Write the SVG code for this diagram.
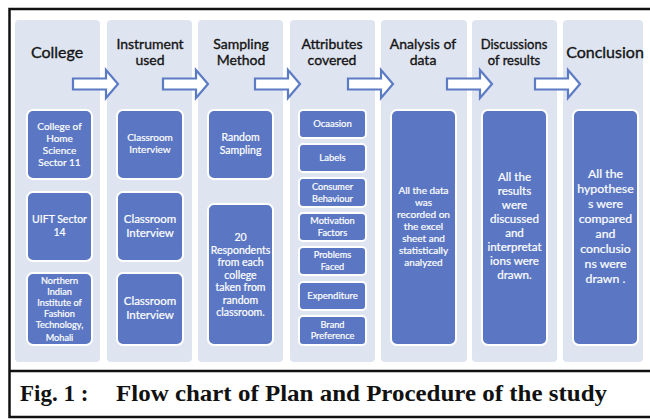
<svg xmlns="http://www.w3.org/2000/svg" width="650" height="419" viewBox="0 0 650 419">
  <style>
    .col { fill: #dfe4f1; }
    .box { fill: #5b77c3; stroke: #ffffff; stroke-width: 2; }
    .arrow { fill: #ffffff; stroke: #5b7bc4; stroke-width: 2.2; stroke-linejoin: miter; }
    .hd { font-family: Lato, "Open Sans", sans-serif; font-weight: normal; fill: #141414; stroke: #141414; stroke-width: 0.35; text-anchor: middle; }
    .bt { font-family: Lato, "Open Sans", sans-serif; font-weight: normal; fill: #ffffff; stroke: #ffffff; stroke-width: 0.2; text-anchor: middle; }
    .cap { font-family: "Liberation Serif", "Times New Roman", serif; font-weight: bold; fill: #111111; }
  </style>
  <defs>
    <path id="arr" d="M0,-5.5 H33 V-14 L45,0 L33,14 V5.5 H0 Z"/>
  </defs>

  <rect x="0" y="0" width="650" height="419" fill="#ffffff"/>

  <!-- frame -->
  <rect x="9.5" y="9" width="642" height="408" fill="none" stroke="#111111" stroke-width="2.5"/>
  <line x1="9.5" y1="371" x2="650" y2="371" stroke="#111111" stroke-width="2.5"/>

  <!-- column backgrounds -->
  <g id="columns">
    <rect class="col" x="15" y="20" width="85" height="342" rx="4"/>
    <rect class="col" x="107" y="20" width="85" height="342" rx="4"/>
    <rect class="col" x="198" y="20" width="85" height="342" rx="4"/>
    <rect class="col" x="290" y="20" width="85" height="342" rx="4"/>
    <rect class="col" x="381" y="20" width="86" height="342" rx="4"/>
    <rect class="col" x="472" y="20" width="85" height="342" rx="4"/>
    <rect class="col" x="563" y="20" width="80" height="342" rx="4"/>
  </g>

  <!-- connectors -->
  <g id="connectors">
    <use href="#arr" class="arrow" x="73" y="84"/>
    <use href="#arr" class="arrow" x="163" y="84"/>
    <use href="#arr" class="arrow" x="255" y="84"/>
    <use href="#arr" class="arrow" x="348" y="84"/>
    <use href="#arr" class="arrow" x="447" y="84"/>
    <use href="#arr" class="arrow" x="535" y="84"/>
  </g>

  <!-- column 1 -->
  <g id="college">
    <text class="hd" x="57" y="58" font-size="16">College</text>
    <g id="college-1">
      <rect class="box" x="27" y="110" width="65" height="69" rx="6"/>
      <text class="bt" font-size="10"><tspan x="59.5" y="130">College of</tspan><tspan x="59.5" y="142">Home</tspan><tspan x="59.5" y="154">Science</tspan><tspan x="59.5" y="166">Sector 11</tspan></text>
    </g>
    <g id="college-2">
      <rect class="box" x="27" y="192" width="65" height="69" rx="6"/>
      <text class="bt" font-size="10.5"><tspan x="59.5" y="223">UIFT Sector</tspan><tspan x="59.5" y="236">14</tspan></text>
    </g>
    <g id="college-3">
      <rect class="box" x="27" y="273" width="65" height="72" rx="6"/>
      <text class="bt" font-size="9.2"><tspan x="59.5" y="284">Northern</tspan><tspan x="59.5" y="295">Indian</tspan><tspan x="59.5" y="306">Institute of</tspan><tspan x="59.5" y="317">Fashion</tspan><tspan x="59.5" y="328">Technology,</tspan><tspan x="59.5" y="341">Mohali</tspan></text>
    </g>
  </g>

  <!-- column 2 -->
  <g id="instrument">
    <text class="hd" font-size="14"><tspan x="150" y="49">Instrument</tspan><tspan x="150" y="65">used</tspan></text>
    <g id="instrument-1">
      <rect class="box" x="117" y="110" width="66" height="69" rx="6"/>
      <text class="bt" font-size="10"><tspan x="150" y="141">Classroom</tspan><tspan x="150" y="153">Interview</tspan></text>
    </g>
    <g id="instrument-2">
      <rect class="box" x="117" y="192" width="66" height="69" rx="6"/>
      <text class="bt" font-size="11.5"><tspan x="150" y="223">Classroom</tspan><tspan x="150" y="237">Interview</tspan></text>
    </g>
    <g id="instrument-3">
      <rect class="box" x="117" y="273" width="66" height="72" rx="6"/>
      <text class="bt" font-size="11.5"><tspan x="150" y="305">Classroom</tspan><tspan x="150" y="319">Interview</tspan></text>
    </g>
  </g>

  <!-- column 3 -->
  <g id="sampling">
    <text class="hd" font-size="14"><tspan x="241" y="49">Sampling</tspan><tspan x="241" y="65">Method</tspan></text>
    <g id="sampling-1">
      <rect class="box" x="208" y="110" width="65" height="69" rx="6"/>
      <text class="bt" font-size="10.5"><tspan x="240.5" y="141">Random</tspan><tspan x="240.5" y="154">Sampling</tspan></text>
    </g>
    <g id="sampling-2">
      <rect class="box" x="208" y="204" width="65" height="141" rx="6"/>
      <text class="bt" font-size="10.5"><tspan x="240.5" y="241">20</tspan><tspan x="240.5" y="253.5">Respondents</tspan><tspan x="240.5" y="266">from each</tspan><tspan x="240.5" y="278.5">college</tspan><tspan x="240.5" y="291">taken from</tspan><tspan x="240.5" y="303.5">random</tspan><tspan x="240.5" y="316">classroom.</tspan></text>
    </g>
  </g>

  <!-- column 4 -->
  <g id="attributes">
    <text class="hd" font-size="14"><tspan x="332" y="49">Attributes</tspan><tspan x="332" y="65">covered</tspan></text>
    <g id="attr-occasion">
      <rect class="box" x="299" y="110" width="67" height="28" rx="4"/>
      <text class="bt" font-size="9.5" x="332.5" y="127">Ocaasion</text>
    </g>
    <g id="attr-labels">
      <rect class="box" x="299" y="144" width="67" height="28" rx="4"/>
      <text class="bt" font-size="9.5" x="332.5" y="161">Labels</text>
    </g>
    <g id="attr-consumer">
      <rect class="box" x="299" y="178" width="67" height="29" rx="4"/>
      <text class="bt" font-size="9.2"><tspan x="332.5" y="190">Consumer</tspan><tspan x="332.5" y="202">Behaviour</tspan></text>
    </g>
    <g id="attr-motivation">
      <rect class="box" x="299" y="213" width="67" height="28" rx="4"/>
      <text class="bt" font-size="9.2"><tspan x="332.5" y="224">Motivation</tspan><tspan x="332.5" y="235.5">Factors</tspan></text>
    </g>
    <g id="attr-problems">
      <rect class="box" x="299" y="247" width="67" height="28" rx="4"/>
      <text class="bt" font-size="9.2"><tspan x="332.5" y="258">Problems</tspan><tspan x="332.5" y="269.5">Faced</tspan></text>
    </g>
    <g id="attr-expenditure">
      <rect class="box" x="299" y="282" width="67" height="28" rx="4"/>
      <text class="bt" font-size="9.5" x="332.5" y="299">Expenditure</text>
    </g>
    <g id="attr-brand">
      <rect class="box" x="299" y="316" width="67" height="29" rx="4"/>
      <text class="bt" font-size="9.2"><tspan x="332.5" y="327.5">Brand</tspan><tspan x="332.5" y="339">Preference</tspan></text>
    </g>
  </g>

  <!-- column 5 -->
  <g id="analysis">
    <text class="hd" font-size="14"><tspan x="423" y="49">Analysis of</tspan><tspan x="423" y="65">data</tspan></text>
    <g id="analysis-1">
      <rect class="box" x="391" y="110" width="65" height="235" rx="6"/>
      <text class="bt" font-size="10"><tspan x="423.5" y="194">All the data</tspan><tspan x="423.5" y="206">was</tspan><tspan x="423.5" y="218">recorded on</tspan><tspan x="423.5" y="230">the excel</tspan><tspan x="423.5" y="242">sheet and</tspan><tspan x="423.5" y="254">statistically</tspan><tspan x="423.5" y="266">analyzed</tspan></text>
    </g>
  </g>

  <!-- column 6 -->
  <g id="discussions">
    <text class="hd" font-size="13"><tspan x="514" y="49">Discussions</tspan><tspan x="514" y="65">of results</tspan></text>
    <g id="discussions-1">
      <rect class="box" x="482" y="110" width="65" height="235" rx="6"/>
      <text class="bt" font-size="11.6"><tspan x="514.5" y="181">All the</tspan><tspan x="514.5" y="195">results</tspan><tspan x="514.5" y="209">were</tspan><tspan x="514.5" y="223">discussed</tspan><tspan x="514.5" y="237">and</tspan><tspan x="514.5" y="251">interpretat</tspan><tspan x="514.5" y="265">ions were</tspan><tspan x="514.5" y="279">drawn.</tspan></text>
    </g>
  </g>

  <!-- column 7 -->
  <g id="conclusion">
    <text class="hd" x="605" y="58" font-size="16">Conclusion</text>
    <g id="conclusion-1">
      <rect class="box" x="573" y="110" width="65" height="235" rx="6"/>
      <text class="bt" font-size="12.3"><tspan x="605.5" y="178">All the</tspan><tspan x="605.5" y="193">hypothese</tspan><tspan x="605.5" y="208">s were</tspan><tspan x="605.5" y="223">compared</tspan><tspan x="605.5" y="238">and</tspan><tspan x="605.5" y="253">conclusio</tspan><tspan x="605.5" y="268">ns were</tspan><tspan x="605.5" y="283">drawn .</tspan></text>
    </g>
  </g>

  <!-- caption -->
  <text class="cap" x="20" y="401" font-size="23">Fig. 1 :</text>
  <text class="cap" x="116" y="401" font-size="23" textLength="491" lengthAdjust="spacingAndGlyphs">Flow chart of Plan and Procedure of the study</text>
</svg>
